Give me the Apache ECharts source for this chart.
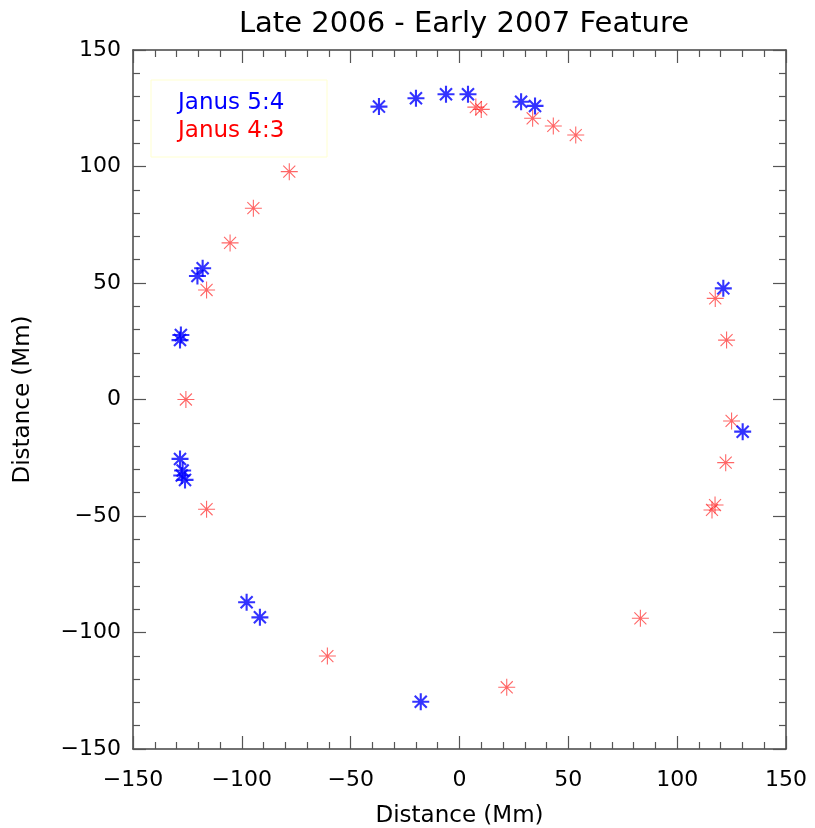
<!DOCTYPE html>
<html>
<head>
<meta charset="utf-8">
<script src="https://cdn.jsdelivr.net/npm/echarts@6/dist/echarts.min.js"></script>
<style>html,body{margin:0;padding:0;background:#fff}#c{width:815px;height:828px}</style>
</head>
<body>
<div id="c"></div>
<script>
const titleText = "Late 2006 - Early 2007 Feature";
const axisName = "Distance (Mm)";
const seriesNames = ["Janus 5:4", "Janus 4:3"];
const janus54 = [
  [-37, 125.7], [-20, 129.3], [-6.2, 131], [3.9, 131], [28.3, 127.8], [34.7, 126],
  [-118, 56.3], [-120.4, 53], [-128, 27.7], [-128.4, 25.5],
  [-128.4, -25.5], [-127.2, -30.5], [-127.6, -32.6], [-126.1, -34.5],
  [-97.8, -87], [-91.7, -93.5], [-17.8, -129.7],
  [121.2, 47.7], [130.1, -13.8]
];
const janus43 = [
  [7.5, 125.5], [10, 124.5], [33.6, 120.7], [43.1, 117.4], [53.4, 113.5],
  [-78.2, 97.8], [-94.7, 82.1], [-105.4, 67.2], [-116.2, 47], [-125.7, 0], [-116.2, -47.1],
  [-60.7, -110.1], [21.7, -123.5], [83.1, -93.9],
  [117.5, 43.4], [122.7, 25.5], [125, -9.2], [122.3, -27.1], [117.4, -45.3], [116, -47.4]
];
const xTicks = [-150, -100, -50, 0, 50, 100, 150];
const yTicks = [-150, -100, -50, 0, 50, 100, 150];

const star = 'path://M0,-1L0,1M-1,0L1,0M-0.707,-0.707L0.707,0.707M-0.707,0.707L0.707,-0.707';
const font = 'DejaVu Sans';
const fmt = v => String(v).replace('-', '\u2212');
function ax(pos, showLabel, isX, ticks) {
  return {
    type: 'value', position: pos, min: ticks[0], max: ticks[ticks.length-1], interval: 50,
    axisLine: {show: true, onZero: false, lineStyle: {color: '#444', width: 1.5}},
    axisTick: {show: true, inside: true, length: 13, lineStyle: {color: '#555', width: 1.2}},
    minorTick: {show: true, splitNumber: 5, length: 7, lineStyle: {color: '#555', width: 1.2}},
    splitLine: {show: false},
    axisLabel: {show: showLabel, color: '#000', fontFamily: font, fontSize: 22, margin: isX ? 20 : 12, formatter: fmt},
    name: showLabel ? axisName : '', nameLocation: 'middle', nameGap: isX ? 56 : 98,
    nameTextStyle: {color: '#000', fontFamily: font, fontSize: 23}
  };
}
const chart = echarts.init(document.getElementById('c'));
chart.setOption({
  animation: false,
  backgroundColor: '#fff',
  title: {text: titleText, left: 459, top: 5, textAlign: 'center',
    textStyle: {color: '#000', fontFamily: font, fontSize: 29, fontWeight: 'normal'}},
  grid: {left: 133, right: 29, top: 50, bottom: 79, containLabel: false, outerBoundsMode: 'none'},
  xAxis: [ax('bottom', true, true, xTicks), ax('top', false, true, xTicks)],
  yAxis: [ax('left', true, false, yTicks), ax('right', false, false, yTicks)],
  graphic: [
    {type: 'rect', shape: {x: 151, y: 80, width: 176, height: 77}, style: {fill: 'none', stroke: '#ffffd0', lineWidth: 1}},
    {type: 'text', x: 178, y: 103, style: {text: seriesNames[0], fill: '#0000ff', font: '23px "DejaVu Sans"', verticalAlign: 'middle'}},
    {type: 'text', x: 178, y: 131, style: {text: seriesNames[1], fill: '#ff0000', font: '23px "DejaVu Sans"', verticalAlign: 'middle'}}
  ],
  series: [
    {name: seriesNames[1], type: 'scatter', data: janus43, symbol: star, symbolSize: 17,
      itemStyle: {color: 'none', borderColor: 'rgba(255,0,0,0.75)', borderWidth: 1.1}},
    {name: seriesNames[0], type: 'scatter', data: janus54, symbol: star, symbolSize: 17,
      itemStyle: {color: 'none', borderColor: '#0000ff', borderWidth: 2.1}}
  ]
});
</script>
</body>
</html>
